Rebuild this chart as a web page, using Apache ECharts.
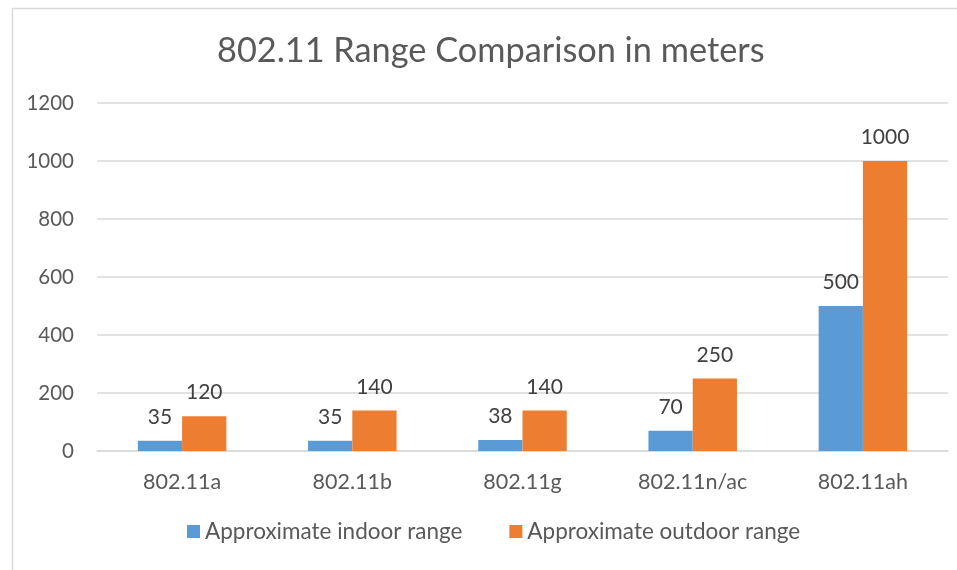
<!DOCTYPE html>
<html><head><meta charset="utf-8">
<script src="https://cdn.jsdelivr.net/npm/echarts@6/dist/echarts.min.js"></script>
<style>html,body{margin:0;padding:0;background:#fff}#c{width:957px;height:570px}</style>
</head><body><div id="c"></div>
<script>
const categories = ['802.11a', '802.11b', '802.11g', '802.11n/ac', '802.11ah'];
const indoor = [35, 35, 38, 70, 500];
const outdoor = [120, 140, 140, 250, 1000];
const seriesNames = ['Approximate indoor range', 'Approximate outdoor range'];
const FONT = 'Lato, "Open Sans", sans-serif';
const chart = echarts.init(document.getElementById('c'), null, {renderer: 'canvas'});
chart.setOption({
  animation: false,
  backgroundColor: '#fff',
  title: {
    text: '802.11 Range Comparison in meters',
    left: 212, top: 29,
    textStyle: {fontFamily: FONT, fontSize: 34.3, fontWeight: 'normal', color: '#595959'}
  },
  graphic: [{
    type: 'rect', left: 10, top: 6, shape: {x: 0, y: 0, width: 960, height: 580},
    style: {fill: 'none', stroke: '#d9d9d9', lineWidth: 1.5}, silent: true
  }],
  legend: {
    bottom: 22, left: 182, itemWidth: 13, itemHeight: 13, itemGap: 47,
    icon: 'rect',
    textStyle: {fontFamily: FONT, fontSize: 22.5, color: '#595959'},
    data: seriesNames
  },
  grid: {left: 97, right: 9, top: 103, bottom: 119, containLabel: false},
  xAxis: {
    type: 'category', data: categories,
    axisLine: {lineStyle: {color: '#d9d9d9', width: 1.5}},
    axisTick: {show: false},
    axisLabel: {fontFamily: FONT, fontSize: 21.5, color: '#595959', margin: 20}
  },
  yAxis: {
    type: 'value', min: 0, max: 1200, interval: 200,
    axisLine: {show: false}, axisTick: {show: false},
    splitLine: {lineStyle: {color: '#d9d9d9', width: 1.5}},
    axisLabel: {fontFamily: FONT, fontSize: 20.5, color: '#595959', margin: 23,
      formatter: function (v) { return String(v); }}
  },
  series: [
    {name: seriesNames[0], type: 'bar', data: indoor, barGap: '0%', barCategoryGap: '48%',
     itemStyle: {color: '#5B9BD5'},
     label: {show: true, position: 'top', distance: 13, fontFamily: FONT, fontSize: 21, color: '#404040'}},
    {name: seriesNames[1], type: 'bar', data: outdoor, barGap: '0%', barCategoryGap: '48%',
     itemStyle: {color: '#ED7D31'},
     label: {show: true, position: 'top', distance: 13, fontFamily: FONT, fontSize: 21, color: '#404040'}}
  ]
});
</script></body></html>
